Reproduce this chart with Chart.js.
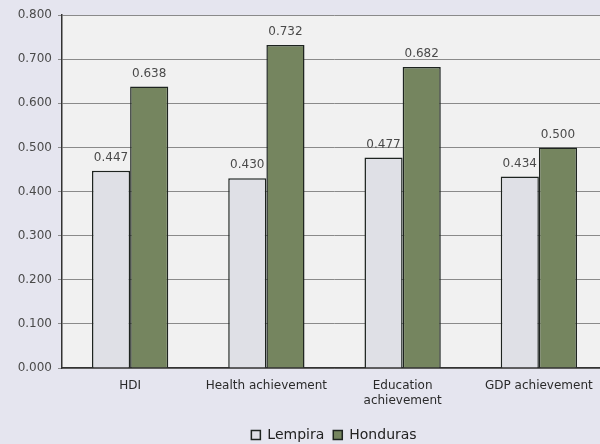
<!DOCTYPE html>
<html>
<head>
<meta charset="utf-8">
<script src="https://cdn.jsdelivr.net/npm/chart.js@4/dist/chart.umd.min.js"></script>
<style>
  html, body { margin: 0; padding: 0; background: #e5e5ef; overflow: hidden; }
  #wrap { width: 668px; height: 444px; position: relative; }
</style>
</head>
<body>
<div id="wrap"><canvas id="c"></canvas></div>
<script>
// Achievement indices by category
const categories = ['HDI', 'Health achievement', ['Education', 'achievement'], 'GDP achievement'];
const lempira = [0.447, 0.430, 0.477, 0.434];
const honduras = [0.638, 0.732, 0.682, 0.500];
const yTicks = [0, 0.1, 0.2, 0.3, 0.4, 0.5, 0.6, 0.7, 0.8];

const FONT = '"DejaVu Sans", "Liberation Sans", Arial, sans-serif';

// light plot background
const plotBg = {
  id: 'plotBg',
  beforeDraw(chart) {
    const { ctx, chartArea: a } = chart;
    ctx.save();
    ctx.fillStyle = '#f1f1f1';
    ctx.fillRect(a.left, a.top, a.right - a.left, a.bottom - a.top);
    ctx.restore();
  }
};

// value printed above each bar
const valueLabels = {
  id: 'valueLabels',
  afterDatasetsDraw(chart) {
    const { ctx } = chart;
    ctx.save();
    ctx.font = '12px ' + FONT;
    ctx.fillStyle = '#4a4a4a';
    ctx.textAlign = 'center';
    ctx.textBaseline = 'bottom';
    chart.data.datasets.forEach((ds, i) => {
      chart.getDatasetMeta(i).data.forEach((bar, j) => {
        ctx.fillText(ds.data[j].toFixed(3), bar.x, bar.y - 7);
      });
    });
    ctx.restore();
  }
};

new Chart(document.getElementById('c'), {
  type: 'bar',
  data: {
    labels: categories,
    datasets: [
      { label: 'Lempira', data: lempira, backgroundColor: '#dfe0e6', borderColor: '#1e2420', borderWidth: 1.5, borderSkipped: 'bottom' },
      { label: 'Honduras', data: honduras, backgroundColor: '#75855f', borderColor: '#1e2420', borderWidth: 1.5, borderSkipped: 'bottom' }
    ]
  },
  options: {
    responsive: true,
    maintainAspectRatio: false,
    animation: false,
    devicePixelRatio: 1,
    layout: { padding: { top: 15, right: 0, left: 0, bottom: -8 } },
    datasets: { bar: { categoryPercentage: 0.56, barPercentage: 1.0 } },
    scales: {
      x: {
        grid: { display: false, drawTicks: false },
        border: { color: '#333', width: 1.5 },
        ticks: {
          color: '#2a2a2a',
          font: { family: FONT, size: 12 },
          padding: 11,
          maxRotation: 0,
          autoSkip: false
        },
        afterFit(s) { s.height = 51; }
      },
      y: {
        min: 0,
        max: 0.8,
        afterBuildTicks(s) { s.ticks = yTicks.map(v => ({ value: v })); },
        grid: { color: '#8a8a8a', lineWidth: 1, drawTicks: true, tickLength: 4 },
        border: { color: '#333', width: 1.5 },
        ticks: {
          color: '#4a4a4a',
          font: { family: FONT, size: 12 },
          padding: 6,
          callback: v => v.toFixed(3)
        },
        afterFit(s) { s.width = 62; }
      },
      // empty right-hand margin that keeps the plot edge in place
      yRight: {
        position: 'right',
        min: 0,
        max: 0.8,
        grid: { display: false, drawTicks: false },
        border: { display: false },
        ticks: { display: false },
        afterFit(s) { s.width = 61; }
      }
    },
    plugins: {
      legend: {
        position: 'bottom',
        labels: {
          boxWidth: 9,
          boxHeight: 9,
          padding: 9,
          color: '#222',
          font: { family: FONT, size: 14 }
        }
      },
      tooltip: { enabled: false }
    }
  },
  plugins: [plotBg, valueLabels]
});
</script>
</body>
</html>
